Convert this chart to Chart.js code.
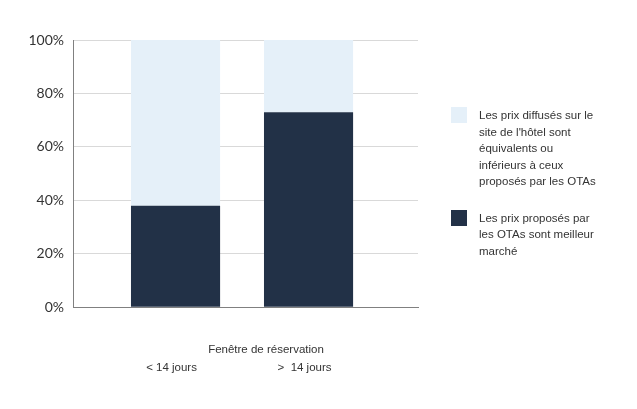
<!DOCTYPE html>
<html>
<head>
<meta charset="utf-8">
<script src="https://cdn.jsdelivr.net/npm/chart.js@4/dist/chart.umd.min.js"></script>
<style>
  html, body { margin: 0; padding: 0; background: #fff; }
  #wrap { position: relative; width: 637px; height: 409px; }
  #legend {
    position: absolute; left: 451px; top: 107px;
    font-family: 'Liberation Sans', Arial, sans-serif;
    font-size: 11.5px; line-height: 16.5px; color: #333;
  }
  .item { display: flex; align-items: flex-start; margin-bottom: 20px; }
  .box { width: 16px; height: 16px; margin-right: 12px; flex: none; }
  .line { white-space: nowrap; }
</style>
</head>
<body>
<div id="wrap">
  <canvas id="chart" width="637" height="409"></canvas>
  <div id="legend"></div>
</div>
<script>
const categories = ['< 14 jours', '>  14 jours'];
const otaMoinsCher = [38, 73];
const hotelEgalOuMoins = [62, 27];
const yTicks = [0, 20, 40, 60, 80, 100];
const labelHotel = ["Les prix diffusés sur le", "site de l'hôtel sont", "équivalents ou", "inférieurs à ceux", "proposés par les OTAs"];
const labelOta = ["Les prix proposés par", "les OTAs sont meilleur", "marché"];
const axisTitle = 'Fenêtre de réservation';

const textFont = { family: "'Liberation Sans', Arial, sans-serif", size: 11.5 };
const xMin = -0.771, xMax = 1.823;

function points(values) {
  return values.map((v, i) => ({ x: i, y: v }));
}

const ctx = document.getElementById('chart').getContext('2d');
const chart = new Chart(ctx, {
  type: 'bar',
  data: {
    datasets: [
      { label: labelOta.join(' '), lines: labelOta, data: points(otaMoinsCher), backgroundColor: '#223147', xAxisID: 'x', yAxisID: 'y' },
      { label: labelHotel.join(' '), lines: labelHotel, data: points(hotelEgalOuMoins), backgroundColor: '#e5f0f9', xAxisID: 'x', yAxisID: 'y' }
    ]
  },
  options: {
    responsive: false,
    animation: false,
    devicePixelRatio: 1,
    categoryPercentage: 1,
    barPercentage: 0.67,
    layout: { padding: { top: 40, right: 219, bottom: 34, left: 0 } },
    plugins: { legend: { display: false }, tooltip: { enabled: false } },
    scales: {
      x: {
        type: 'linear', position: 'bottom', weight: 1, stacked: true, offset: false, min: xMin, max: xMax,
        afterBuildTicks: s => { s.ticks = categories.map((c, i) => ({ value: i })); },
        afterFit: s => { s.height = 3 + 14.4; },
        ticks: { callback: v => categories[v], padding: 3, labelOffset: -4, maxRotation: 0, color: '#333', font: textFont },
        grid: { display: false, drawTicks: false },
        border: { display: false }
      },
      y: {
        stacked: true, min: 0, max: 100,
        afterFit: s => { s.width = 73; },
        afterBuildTicks: s => { s.ticks = yTicks.map(v => ({ value: v })); },
        ticks: { callback: v => v + '%', padding: 9, color: '#333', font: { family: 'Lato', size: 14 } },
        grid: { color: '#d9d9d9', drawTicks: false },
        border: { color: '#808080' }
      },
      // axe factice : porte la ligne de base et le titre (au-dessus des catégories)
      xt: {
        type: 'linear', position: 'bottom', weight: 0, offset: false, min: xMin, max: xMax,
        afterBuildTicks: s => { s.ticks = [{ value: 0.68 }]; },
        afterFit: s => { s.height = 36 + 14.4; },
        ticks: { callback: () => axisTitle, padding: 36, maxRotation: 0, color: '#333', font: textFont },
        grid: { display: false, drawTicks: false },
        border: { display: true, color: '#808080' }
      }
    }
  }
});

// légende HTML (ordre inversé : série claire en premier)
const legend = document.getElementById('legend');
chart.data.datasets.slice().reverse().forEach(ds => {
  const item = document.createElement('div');
  item.className = 'item';
  const box = document.createElement('div');
  box.className = 'box';
  box.style.background = ds.backgroundColor;
  const txt = document.createElement('div');
  ds.lines.forEach(l => {
    const d = document.createElement('div');
    d.className = 'line';
    d.textContent = l;
    txt.appendChild(d);
  });
  item.appendChild(box);
  item.appendChild(txt);
  legend.appendChild(item);
});
</script>
</body>
</html>
